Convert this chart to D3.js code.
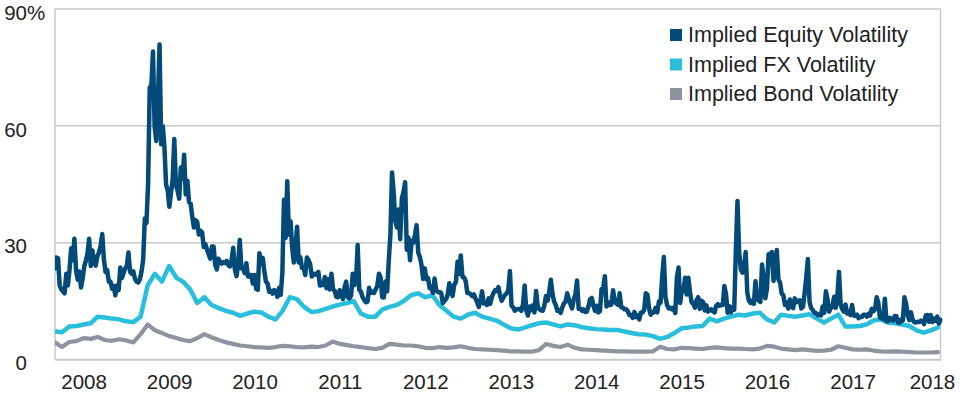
<!DOCTYPE html>
<html>
<head>
<meta charset="utf-8">
<script src="https://cdn.jsdelivr.net/npm/d3@7"></script>
<style>
  html, body { margin: 0; padding: 0; background: #fff; }
  svg { display: block; }
  text { font-family: "Liberation Sans", Arial, Helvetica, sans-serif; fill: #222; }
</style>
</head>
<body>
<svg id="chart" width="960" height="393"></svg>
<script>
// ---------------- DATA ----------------
const seriesNames = ["Implied Equity Volatility", "Implied FX Volatility", "Implied Bond Volatility"];
const yTicks = [0, 30, 60, 90];
const yearTicks = [2008, 2009, 2010, 2011, 2012, 2013, 2014, 2015, 2016, 2017, 2018];

// Implied equity volatility, weekly (Fridays), one array per year with its first Friday
const eqStarts = ["2007-08-31","2008-01-04","2009-01-02","2010-01-01","2011-01-07","2012-01-06",
                  "2013-01-04","2014-01-03","2015-01-02","2016-01-01","2017-01-06","2018-01-05"];
const eq2007 = [23.4,26.2,26.0,19.0,18.0,17.5,17.0,22.0,19.0,23.0,28.5,25.5,31.0,22.9,20.5,22.6,18.5,20.7];
const eq2008 = [23.9,25.4,27.2,31.0, 24.0,28.0,25.0,24.1,26.5, 27.5,29.1,32.2,25.7, 22.5,23.0,20.0,20.0,
                18.2,18.9,16.5,19.0,17.8, 23.6,20.9,22.2,23.4, 24.0,27.5,22.5,22.0, 22.6,20.7,20.0,19.8,20.6,
                22.6,25.6,36.2,35.0, 45.1,69.9,70.3,79.1,59.9, 56.1,66.3,80.9,55.3, 59.9,54.3,44.9,43.4];
const eq2009 = [39.2,42.8,46.1,56.6,44.8, 43.4,41.3,49.3,46.4, 52.6,42.4,45.9,40.4, 40.0,36.6,33.9,35.8,
                35.3,32.1,33.1,32.6,28.9, 29.6,28.2,27.0,25.9, 29.0,29.0,24.3,23.1,25.9, 25.0,24.6,25.0,24.8,
                25.3,24.2,23.9,25.6, 28.7,23.1,21.4,24.3,30.7, 23.4,23.3,22.2,24.7, 21.3,21.6,21.7,19.5];
const eq2010 = [21.7,18.1,17.9,27.3,24.6, 26.1,22.7,20.0,19.5, 17.4,17.6,16.9,17.8, 17.5,16.1,18.4,16.6,22.1,
                41.0,31.2,45.8,32.1, 35.5,28.8,24.9,28.5, 34.1,24.9,26.3,23.5,23.5, 21.7,26.2,25.5,24.5,
                21.3,21.9,22.0,21.7, 22.5,19.0,19.1,19.1,21.2, 18.3,20.6,18.0,22.0, 18.0,17.6,16.1,16.0,17.8];
const eq2011 = [17.1,15.5,18.5,20.0, 15.9,15.7,16.4,22.0, 19.1,20.1,29.4,17.9, 17.4,16.0,15.3,14.7,14.8,
                18.4,17.1,17.4,17.1, 18.0,18.9,22.0,21.1, 16.0,15.9,20.0,17.5,25.3, 32.0,48.0,43.0,35.6,
                33.9,38.5,30.9,41.3,43.0, 45.5,28.2,31.3,25.5, 30.5,30.0,32.0,34.5, 27.5,26.3,24.3,20.7,23.4];
const eq2012 = [20.6,20.9,18.3,18.5, 17.1,20.8,17.8,17.3, 17.3,17.1,14.5,15.0,15.5, 16.7,19.6,17.4,16.3,
                19.2,19.9,25.1,22.0, 26.7,21.2,21.1,20.1,17.1, 17.1,16.7,16.3,16.7, 15.6,14.7,13.5,15.2,17.5,
                14.4,14.5,14.0,15.7, 14.3,16.1,17.1,17.8, 17.6,18.6,16.4,15.1,15.9, 16.6,17.0,17.8,22.7];
const eq2013 = [13.8,13.4,12.5,12.9, 12.9,13.0,12.5,14.2, 19.0,12.6,11.3,13.6,12.7, 13.9,12.1,17.6,13.6,
                12.9,12.6,12.5,13.8,16.3, 15.1,17.2,20.5,16.9, 14.9,14.0,12.5,12.7, 12.0,13.4,14.4,14.8,17.0,
                15.4,14.2,13.1,15.5, 16.7,20.3,13.0,13.1, 12.5,12.9,12.2,12.3,13.7, 15.5,15.8,13.8,12.5];
const eq2014 = [13.8,12.1,12.4,18.1,18.4, 21.4,13.6,14.7,14.0, 14.1,17.8,15.0,14.4, 14.0,17.0,13.4,13.3,
                12.9,12.9,12.4,11.4,11.4, 10.7,12.2,10.9,11.3, 10.3,12.1,12.1,12.7, 17.0,16.7,13.2,11.5,12.1,
                12.1,13.3,12.1,14.9, 14.6,21.2,26.3,16.1,14.0, 13.1,13.3,12.9,13.3, 11.9,21.1,23.6,14.5];
const eq2015 = [17.8,17.6,21.0,16.7,21.0, 17.3,14.7,14.3,13.3, 15.2,16.0,13.0,15.1, 14.7,12.6,13.9,12.3,
                12.7,12.9,12.4,12.1,13.8, 14.2,13.8,14.0,14.0, 18.9,16.8,12.0,13.7,12.1, 13.4,12.8,28.0,40.7,
                27.8,23.2,22.3,23.6, 27.6,17.1,15.1,14.5,15.1, 14.3,20.1,15.5,15.1, 14.8,24.4,20.7,15.7];
const eq2016 = [18.2,27.0,27.0,27.6,20.2, 23.4,28.1,20.5,19.8, 16.9,16.5,14.0,14.7, 13.1,15.4,13.6,13.2,15.7,
                14.7,15.0,15.2,13.1, 13.5,17.0,21.0,25.8, 14.8,13.2,12.7,12.0,11.9, 11.4,11.6,11.3,13.6,
                12.0,17.5,15.4,12.3,13.3, 13.5,16.1,13.3,16.2, 22.5,14.2,12.9,12.3, 14.1,11.8,12.2,11.4,14.0];
const eq2017 = [11.3,11.2,11.5,10.6, 11.0,10.9,11.5,11.5, 11.0,11.7,11.3,13.0,12.4, 12.9,16.0,14.6,10.8,
                10.6,10.4,15.6,9.8, 9.8,10.7,10.4,10.0,11.2, 11.2,9.5,9.4,10.3, 10.0,16.0,14.3,11.3,
                10.1,12.1,10.2,9.6,9.5, 9.7,9.6,10.0,9.8, 9.1,11.3,11.4,9.7, 11.4,9.6,10.5,9.9,11.0];
const eq2018 = [9.2, 10.2];

// Implied FX and bond volatility, monthly (1st of month), Sep 2007 - Jan 2018
const monthlyStart = "2007-09-01";
const fxValues = [
  7.2,7.0,8.5,8.6,
  9.0,9.3,11.0,10.8,10.5,10.3,9.8,9.6,11.0,19.0,22.0,20.0,
  24.0,21.0,20.0,18.0,14.5,16.0,14.0,13.2,12.5,12.0,11.2,11.8,
  12.3,12.0,11.0,10.3,12.5,16.0,15.5,13.5,12.2,12.4,13.0,13.6,
  14.1,14.5,15.0,11.8,11.0,11.0,12.8,13.5,14.0,15.0,16.5,17.0,
  16.0,16.5,14.0,12.5,11.0,10.5,11.5,12.0,11.0,10.5,10.0,9.0,
  8.0,7.7,8.2,8.8,9.3,9.5,9.0,8.5,9.0,8.8,8.3,8.0,
  7.8,7.7,7.6,7.6,7.2,6.8,6.5,6.4,6.0,5.3,5.8,6.8,
  8.0,8.2,8.5,8.6,10.5,9.8,10.5,11.0,11.5,11.3,11.8,12.0,
  10.3,9.5,11.5,11.2,11.0,11.3,11.6,10.5,9.5,10.5,11.5,8.5,
  8.5,8.6,9.0,10.0,10.3,9.5,9.3,9.0,8.6,7.5,6.9,7.5,
  8.2
];
const bondValues = [
  4.4,3.2,4.5,4.7,
  5.5,5.3,5.8,5.0,4.8,5.2,4.9,4.4,6.5,9.0,7.5,6.8,
  6.0,5.5,5.0,4.7,5.5,6.5,5.7,5.0,4.4,4.0,3.6,3.4,
  3.2,3.1,3.0,3.2,3.5,3.4,3.2,3.1,3.3,3.2,3.6,4.6,
  4.0,3.7,3.4,3.2,2.9,2.7,3.0,4.0,3.8,3.6,3.6,3.4,
  3.0,2.9,3.2,3.0,3.1,3.4,3.0,2.7,2.6,2.5,2.4,2.3,
  2.1,2.1,2.0,2.0,2.4,4.0,3.5,3.2,3.8,3.0,2.6,2.5,
  2.4,2.3,2.2,2.1,2.1,2.0,2.0,2.0,2.1,3.3,2.7,2.6,
  3.0,2.9,2.8,2.7,3.0,3.1,2.9,2.8,2.8,2.7,2.6,2.8,
  3.5,3.3,2.8,2.6,2.4,2.6,2.4,2.2,2.3,2.5,3.4,3.0,
  2.6,2.5,2.6,2.3,2.1,2.0,2.1,2.0,1.9,1.8,1.8,1.8,
  1.9
];
const colors = ["#034a79", "#29bedc", "#8d94a0"];

// ---------------- BUILD TABLES ----------------
const parse = d3.timeParse("%Y-%m-%d");
const eqYears = [eq2007, eq2008, eq2009, eq2010, eq2011, eq2012, eq2013, eq2014, eq2015, eq2016, eq2017, eq2018];
const equity = [];
eqYears.forEach((arr, k) => {
  const s = parse(eqStarts[k]);
  arr.forEach((v, i) => equity.push({ date: d3.timeDay.offset(s, 7 * i), value: v }));
});
const m0 = parse(monthlyStart);
const fx = fxValues.map((v, i) => ({ date: d3.timeMonth.offset(m0, i), value: v }));
const bond = bondValues.map((v, i) => ({ date: d3.timeMonth.offset(m0, i), value: v }));

// ---------------- LAYOUT ----------------
const svg = d3.select("#chart");
const L = 55, R = 940.5, T = 9, B = 359.5;

const x = d3.scaleTime()
  .domain([parse("2007-09-01"), parse("2018-01-12")])
  .range([L, R]);
const y = d3.scaleLinear().domain([0, 90]).range([B, T]);

const gridColor = "#c9c9c9";

// gridlines
svg.append("g").selectAll("line")
  .data(yTicks)
  .join("line")
  .attr("x1", L).attr("x2", R)
  .attr("y1", d => y(d)).attr("y2", d => y(d))
  .attr("stroke", gridColor).attr("stroke-width", 1.5);

// frame sides
svg.append("line").attr("x1", L).attr("x2", L).attr("y1", T).attr("y2", B)
  .attr("stroke", gridColor).attr("stroke-width", 1.5);
svg.append("line").attr("x1", R).attr("x2", R).attr("y1", T).attr("y2", B)
  .attr("stroke", gridColor).attr("stroke-width", 1.5);

// clip
svg.append("clipPath").attr("id", "clip").append("rect")
  .attr("x", L).attr("y", 0).attr("width", R - L + 2).attr("height", B + 3);

const line = d3.line().x(d => x(d.date)).y(d => y(d.value));

const gLines = svg.append("g").attr("clip-path", "url(#clip)");
[[bond, colors[2], 4.2], [fx, colors[1], 4.5], [equity, colors[0], 4.5]].forEach(([data, c, w]) => {
  gLines.append("path")
    .datum(data)
    .attr("d", line)
    .attr("fill", "none")
    .attr("stroke", c)
    .attr("stroke-width", w)
    .attr("stroke-linejoin", "round")
    .attr("stroke-linecap", "round");
});

// y axis
const yAxis = svg.append("g")
  .attr("transform", `translate(${L},0)`)
  .call(d3.axisLeft(y).tickValues(yTicks).tickSize(0).tickPadding(28).tickFormat(d3.format("d")));
yAxis.select(".domain").remove();
yAxis.selectAll("text")
  .attr("font-size", 20.5)
  .attr("y", 3)
  .attr("dy", "0.35em")
  .style("font-family", "'Liberation Sans', Arial, sans-serif")
  .attr("fill", "#222");
yAxis.selectAll(".tick").filter(d => d === 90)
  .append("text")
  .attr("x", -28).attr("y", 3).attr("dy", "0.35em")
  .attr("text-anchor", "start")
  .attr("font-size", 20.5)
  .attr("fill", "#222")
  .text("%");

// x axis
const xAxis = svg.append("g")
  .attr("transform", `translate(0,${B})`)
  .call(d3.axisBottom(x)
    .tickValues(yearTicks.map(yr => new Date(yr, 0, 1)))
    .tickSize(0)
    .tickFormat(d3.timeFormat("%Y")));
xAxis.select(".domain").attr("stroke", gridColor).attr("stroke-width", 1.5);
xAxis.selectAll("text")
  .attr("font-size", 20.5)
  .attr("y", 29)
  .attr("dy", 0)
  .style("font-family", "'Liberation Sans', Arial, sans-serif")
  .attr("fill", "#222");
// keep the last year label inside the picture
xAxis.selectAll(".tick").filter(d => d.getFullYear() === 2018).select("text").attr("dx", -6);

// legend
const legend = svg.append("g").attr("transform", "translate(670,0)");
const rowY = [42, 71.5, 101];
seriesNames.forEach((name, i) => {
  legend.append("rect")
    .attr("x", 0).attr("y", rowY[i] - 13)
    .attr("width", 12).attr("height", 12)
    .attr("fill", colors[i]);
  legend.append("text")
    .attr("x", 18).attr("y", rowY[i])
    .attr("font-size", 21.5)
    .text(name);
});
</script>
</body>
</html>
